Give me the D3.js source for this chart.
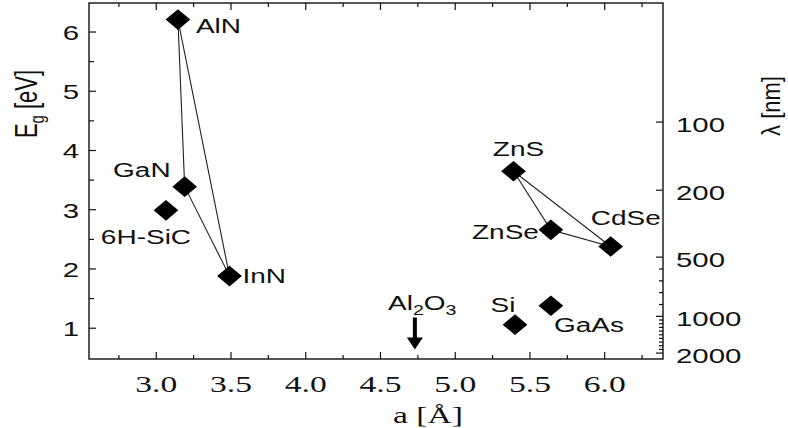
<!DOCTYPE html>
<html>
<head>
<meta charset="utf-8">
<script src="https://cdn.jsdelivr.net/npm/d3@7"></script>
<style>
  body { margin: 0; background: #fff; }
  .sans { font-family: "Liberation Sans", Arial, sans-serif; }
  .serif { font-family: "Liberation Serif", "Times New Roman", serif; }
</style>
</head>
<body>
<svg id="chart" width="788" height="428"></svg>
<script>
// lattice constant a [Å] and band gap Eg [eV] of each material
const materials = ["AlN", "GaN", "InN", "6H-SiC", "ZnS", "ZnSe", "CdSe", "Si", "GaAs"];
const latticeA = [3.145, 3.19, 3.49, 3.065, 5.39, 5.64, 6.04, 5.40, 5.64];
const bandGap = [6.21, 3.39, 1.88, 2.99, 3.65, 2.66, 2.38, 1.06, 1.38];

// triangles joining the ternary alloy systems
const links = [["AlN", "GaN"], ["GaN", "InN"], ["AlN", "InN"],
               ["ZnS", "ZnSe"], ["ZnSe", "CdSe"], ["ZnS", "CdSe"]];

// Al2O3 substrate marker (arrow from top to tip, in eV)
const sapphireA = 4.73;
const sapphireArrow = [1.18, 0.64];

// axis ticks
const xTicks = [3.0, 3.5, 4.0, 4.5, 5.0, 5.5, 6.0];
const xMinor = [2.75, 3.25, 3.75, 4.25, 4.75, 5.25, 5.75, 6.25];
const yTicks = [1, 2, 3, 4, 5, 6];
const yMinor = [1.5, 2.5, 3.5, 4.5, 5.5];
const lambdaTicks = [100, 200, 500, 1000, 2000];
const lambdaMinor = [600, 700, 800, 900, 1100, 1200, 1300, 1400, 1500, 1600, 1700, 1800, 1900];
// the wavelength axis of the source is not a clean 1240/λ: energy where each tick sits
const lambdaTickE = [4.48, 3.33, 2.2, 1.2, 0.58];

// label placement relative to each point: [dx, dy, anchor]
const labelPlace = {
    "AlN": [18, 13, "start"], "GaN": [-14, -10, "end"], "InN": [13, 7, "start"],
    "6H-SiC": [-20, 34, "middle"], "ZnS": [5, -15, "middle"], "ZnSe": [-12, 9, "end"],
    "CdSe": [15, -21, "middle"], "Si": [-12, -13, "middle"], "GaAs": [3, 26, "start"]
};

const SX = 1.4; // the source figure is stretched horizontally, text included
const ink = "#111";

const svg = d3.select("#chart");
const frame = { left: 89, right: 663, top: 3, bottom: 359 };

const x = d3.scaleLinear().domain([2.55, 6.39]).range([frame.left, frame.right]);
const y = d3.scaleLinear().domain([0.48, 6.49]).range([frame.bottom, frame.top]);
const lambdaE = d3.scaleLinear().domain(lambdaTicks).range(lambdaTickE);

function stretchedText(g, px, py, cls, size, anchor) {
    return g.append("text")
        .attr("class", cls)
        .attr("transform", `translate(${px},${py}) scale(${SX},1)`)
        .attr("font-size", size)
        .attr("text-anchor", anchor)
        .attr("fill", ink);
}

// frame
svg.append("rect")
    .attr("x", frame.left).attr("y", frame.top)
    .attr("width", frame.right - frame.left).attr("height", frame.bottom - frame.top)
    .attr("fill", "none").attr("stroke", ink).attr("stroke-width", 1.4);

// ticks, all pointing inward
const ticks = svg.append("g").attr("stroke", ink).attr("stroke-width", 1.2);
[[xTicks, 7], [xMinor, 4]].forEach(([vals, len]) => {
    vals.forEach(v => {
        ticks.append("line").attr("x1", x(v)).attr("x2", x(v))
            .attr("y1", frame.bottom).attr("y2", frame.bottom - len);
        ticks.append("line").attr("x1", x(v)).attr("x2", x(v))
            .attr("y1", frame.top).attr("y2", frame.top + len);
    });
});
[[yTicks, 7], [yMinor, 5]].forEach(([vals, len]) => {
    vals.forEach(v => {
        ticks.append("line").attr("x1", frame.left).attr("x2", frame.left + len)
            .attr("y1", y(v)).attr("y2", y(v));
    });
});
[[lambdaTicks, 7], [lambdaMinor, 4]].forEach(([vals, len]) => {
    vals.forEach(v => {
        const py = y(lambdaE(v));
        ticks.append("line").attr("x1", frame.right).attr("x2", frame.right - len)
            .attr("y1", py).attr("y2", py);
    });
});

// tick labels
const labels = svg.append("g");
xTicks.forEach(v => {
    stretchedText(labels, x(v), 392, "serif", 24, "middle").text(v.toFixed(1));
});
yTicks.forEach(v => {
    stretchedText(labels, 79, y(v) + 8, "sans", 21, "end").text(v);
});
lambdaTicks.forEach(v => {
    stretchedText(labels, 676, y(lambdaE(v)) + 10, "sans", 21, "start").text(v);
});

// axis titles
const eg = svg.append("text")
    .attr("class", "sans")
    .attr("transform", `translate(37,104) scale(${SX},1) rotate(-90)`)
    .attr("font-size", 22).attr("text-anchor", "middle").attr("fill", ink);
eg.append("tspan").text("E");
eg.append("tspan").attr("font-size", 15).attr("dy", 5).text("g");
eg.append("tspan").attr("dy", -5).text(" [eV]");

svg.append("text")
    .attr("class", "sans")
    .attr("transform", "translate(780,106) scale(1.15,1) rotate(-90)")
    .attr("font-size", 22).attr("text-anchor", "middle").attr("fill", ink)
    .text("λ [nm]");

stretchedText(svg, 428, 423, "serif", 24, "middle").text("a [Å]");

// connecting lines
const byName = new Map(materials.map((m, i) => [m, [latticeA[i], bandGap[i]]]));
svg.append("g")
    .selectAll("line")
    .data(links)
    .join("line")
    .attr("x1", d => x(byName.get(d[0])[0]))
    .attr("y1", d => y(byName.get(d[0])[1]))
    .attr("x2", d => x(byName.get(d[1])[0]))
    .attr("y2", d => y(byName.get(d[1])[1]))
    .attr("stroke", "#222")
    .attr("stroke-width", 1.1);

// wide diamond marker
const wideDiamond = {
    draw(context, size) {
        const h = Math.sqrt(size / 2.4), w = h * 1.2;
        context.moveTo(0, -h);
        context.lineTo(w, 0);
        context.lineTo(0, h);
        context.lineTo(-w, 0);
        context.closePath();
    }
};

svg.append("g")
    .selectAll("path")
    .data(materials)
    .join("path")
    .attr("transform", (d, i) => `translate(${x(latticeA[i])},${y(bandGap[i])})`)
    .attr("d", d3.symbol().type(wideDiamond).size(255))
    .attr("fill", "#000");

// point labels
const pointLabels = svg.append("g");
materials.forEach((m, i) => {
    const [dx, dy, anchor] = labelPlace[m];
    stretchedText(pointLabels, x(latticeA[i]) + dx, y(bandGap[i]) + dy, "sans", 20, anchor).text(m);
});

// Al2O3 arrow
const ax = x(sapphireA);
const yTopArrow = y(sapphireArrow[0]), yTip = y(sapphireArrow[1]);
svg.append("line")
    .attr("x1", ax).attr("x2", ax)
    .attr("y1", yTopArrow).attr("y2", yTip - 8)
    .attr("stroke", "#000").attr("stroke-width", 4);
svg.append("path")
    .attr("d", d3.line()([[ax - 8, yTip - 12], [ax + 8, yTip - 12], [ax, yTip]]) + "Z")
    .attr("fill", "#000");

const al = stretchedText(svg, 388, 310, "sans", 20, "start");
al.append("tspan").text("Al");
al.append("tspan").attr("font-size", 14).attr("dy", 5).text("2");
al.append("tspan").attr("dy", -5).text("O");
al.append("tspan").attr("font-size", 14).attr("dy", 5).text("3");
</script>
</body>
</html>
